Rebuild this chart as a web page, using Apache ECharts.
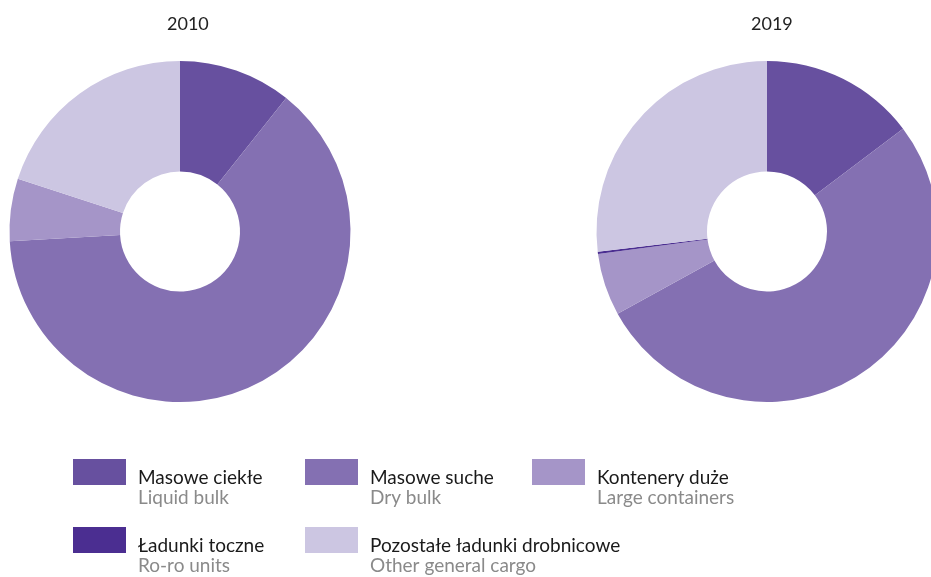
<!DOCTYPE html>
<html lang="pl">
<head>
    <meta charset="UTF-8">
    <title>Ładunki 2010 / 2019</title>
    <script src="https://cdn.jsdelivr.net/npm/echarts@6/dist/echarts.min.js"></script>
    <style>
        body { margin: 0; background: #fff; }
    </style>
</head>
<body>
<div id="main" style="width:931px;height:577px;"></div>
<script>
    // kategorie (PL / EN)
    var namesPl = ['Masowe ciekłe', 'Masowe suche', 'Kontenery duże', 'Ładunki toczne', 'Pozostałe ładunki drobnicowe'];
    var namesEn = ['Liquid bulk', 'Dry bulk', 'Large containers', 'Ro-ro units', 'Other general cargo'];
    var colors = ['#67509f', '#8470b2', '#a595c8', '#4b2e91', '#ccc6e2'];

    // udzialy w %
    var years = ['2010', '2019'];
    var values2010 = [10.7, 63.4, 5.9, 0, 20.0];
    var values2019 = [14.7, 52.3, 5.9, 0.2, 26.9];

    function pieData(vals) {
        var out = [];
        for (var i = 0; i < vals.length; i++) {
            out.push({ name: namesPl[i], value: vals[i], itemStyle: { color: colors[i] } });
        }
        return out;
    }

    var myChart = echarts.init(document.getElementById('main'));

    // pozycje legendy
    var legendPos = [[73, 459], [305, 459], [532, 459], [73, 527], [305, 527]];
    var legends = [];
    for (var i = 0; i < namesPl.length; i++) {
        legends.push({
            left: legendPos[i][0],
            top: legendPos[i][1],
            padding: 0,
            data: [namesPl[i]],
            icon: 'rect',
            itemWidth: 53,
            itemHeight: 26,
            itemGap: 0,
            selectedMode: false,
            formatter: (function (k) {
                return function (name) {
                    return '{a|' + name + '}\n{b|' + namesEn[k] + '}';
                };
            })(i),
            textStyle: {
                padding: [32, 0, 0, 7],
                rich: {
                    a: { fontFamily: 'Lato', fontSize: 19, color: '#1a1a1a', lineHeight: 20 },
                    b: { fontFamily: 'Lato', fontSize: 19, color: '#8a8a8a', lineHeight: 20 }
                }
            }
        });
    }

    var option = {
        animation: false,
        title: [
            { text: years[0], left: 162, top: 10,
              textStyle: { fontFamily: 'Lato', fontSize: 18, fontWeight: 'normal', color: '#222' } },
            { text: years[1], left: 746, top: 10,
              textStyle: { fontFamily: 'Lato', fontSize: 18, fontWeight: 'normal', color: '#222' } }
        ],
        legend: legends,
        series: [
            {
                type: 'pie',
                center: [180, 231.5],
                radius: [60, 170.5],
                startAngle: 90,
                label: { show: false },
                labelLine: { show: false },
                emphasis: { disabled: true },
                data: pieData(values2010)
            },
            {
                type: 'pie',
                center: [767, 231.5],
                radius: [60, 170.5],
                startAngle: 90,
                label: { show: false },
                labelLine: { show: false },
                emphasis: { disabled: true },
                data: pieData(values2019)
            }
        ]
    };
    myChart.setOption(option);
</script>
</body>
</html>
